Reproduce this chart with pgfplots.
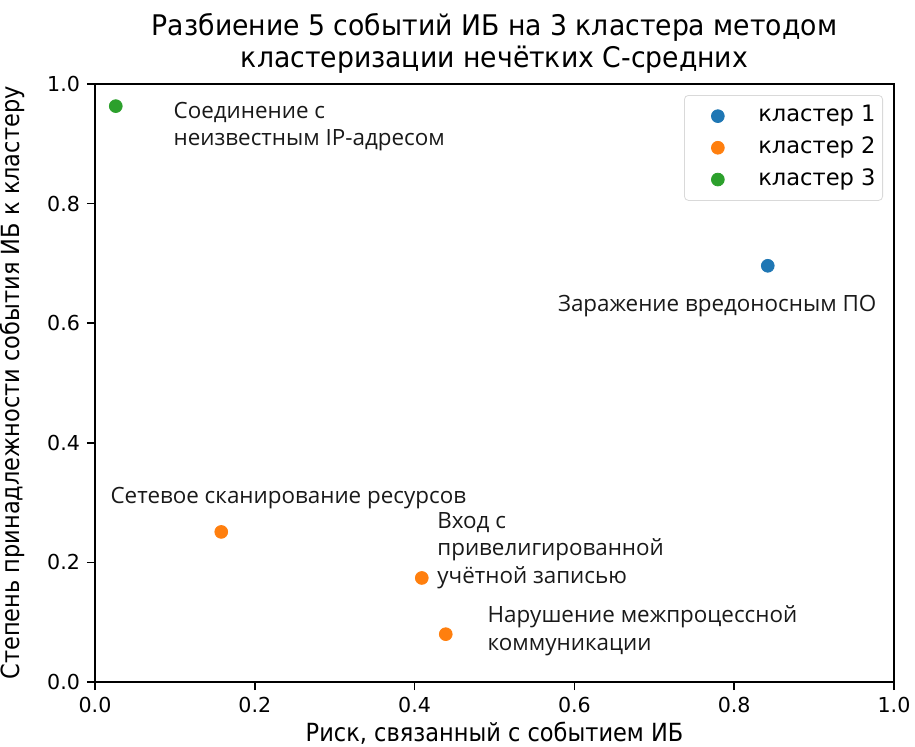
\documentclass[border=0pt]{standalone}
\usepackage{fontspec}
\setmainfont{DejaVu Sans}
\newfontfamily\titlefont[FakeStretch=0.94]{DejaVu Sans}
\newfontfamily\labelfont[FakeStretch=0.9]{DejaVu Sans}
\newfontfamily\annfont{Open Sans}
\usepackage{pgfplots}
\pgfplotsset{compat=1.18}
\definecolor{mplblue}{HTML}{1F77B4}
\definecolor{mplorange}{HTML}{FF7F0E}
\definecolor{mplgreen}{HTML}{2CA02C}
\tikzset{ann/.style={anchor=base west, inner sep=0pt, text=black!90, font=\annfont\fontsize{11.2}{13}\selectfont}}
\begin{document}
\begin{tikzpicture}
\begin{axis}[
  scale only axis, width=399.5pt, height=299pt,
  xmin=0, xmax=1, ymin=0, ymax=1,
  xtick={0,0.2,0.4,0.6,0.8,1}, ytick={0,0.2,0.4,0.6,0.8,1},
  xtick pos=lower, ytick pos=left,
  tick align=outside, major tick length=4pt,
  tick style={black, line width=0.8pt},
  axis line style={line width=0.8pt},
  ticklabel style={font=\fontsize{10.3}{12}\selectfont},
  /pgf/number format/fixed, /pgf/number format/fixed zerofill,
  /pgf/number format/precision=1, /pgf/number format/assume math mode=true,
  legend cell align=left,
  legend image code/.code={\path (0pt,-3.5pt) (33pt,3.5pt); \draw[#1, fill opacity=1, draw opacity=1] plot coordinates {(13pt,0pt)};},
  legend style={at={(rel axis cs:1,1)}, anchor=north east, xshift=-5.5pt, yshift=-5.5pt,
    draw=black!15, rounded corners=2pt, fill=white, fill opacity=0.8, text opacity=1,
    font=\fontsize{11.3}{13}\selectfont, inner xsep=3.5pt, inner ysep=5pt,
    nodes={inner sep=0pt, text depth=0.25em}, column sep=0pt, row sep=5pt},
]
\addplot[only marks, mark=*, mark size=3.2pt, color=mplblue] coordinates {(0.842,0.696)};
\addlegendentry{кластер 1}
\addplot[only marks, mark=*, mark size=3.2pt, color=mplorange] coordinates {(0.158,0.251) (0.409,0.174) (0.439,0.080)};
\addlegendentry{кластер 2}
\addplot[only marks, mark=*, mark size=3.2pt, color=mplgreen] coordinates {(0.026,0.963)};
\addlegendentry{кластер 3}

\node[ann] at (axis cs:0.098,0.9415) {Соединение с};
\node[ann, yshift=-13.5pt] at (axis cs:0.098,0.9415) {неизвестным IP-адресом};
\node[ann] at (axis cs:0.579,0.619) {Заражение вредоносным ПО};
\node[ann] at (axis cs:0.019,0.298) {Сетевое сканирование ресурсов};
\node[ann] at (axis cs:0.428,0.2575) {Вход с};
\node[ann, yshift=-13.75pt] at (axis cs:0.428,0.2575) {привелигированной};
\node[ann, yshift=-27.5pt] at (axis cs:0.428,0.2575) {учётной записью};
\node[ann] at (axis cs:0.491,0.100) {Нарушение межпроцессной};
\node[ann, yshift=-14pt] at (axis cs:0.491,0.100) {коммуникации};
\end{axis}
\node[anchor=base, inner sep=0pt, font=\titlefont\fontsize{14.2}{16}\selectfont] at ([yshift=24.5pt]current axis.north) {Разбиение 5 событий ИБ на 3 кластера методом};
\node[anchor=base, inner sep=0pt, font=\titlefont\fontsize{14.2}{16}\selectfont] at ([yshift=8.5pt]current axis.north) {кластеризации нечётких С-средних};
\node[anchor=base, inner sep=0pt, font=\labelfont\fontsize{12.5}{14}\selectfont] at ([yshift=-29.5pt]current axis.south) {Риск, связанный с событием ИБ};
\node[anchor=base, inner sep=0pt, rotate=90, font=\labelfont\fontsize{12.5}{14}\selectfont] at ([xshift=-37.5pt]current axis.west) {Степень принадлежности события ИБ к кластеру};
\pgfresetboundingbox
\path[use as bounding box] ([shift={(-47.5pt,-32pt)}]current axis.south west) rectangle ([shift={(10.5pt,42pt)}]current axis.north east);
\end{tikzpicture}
\end{document}
